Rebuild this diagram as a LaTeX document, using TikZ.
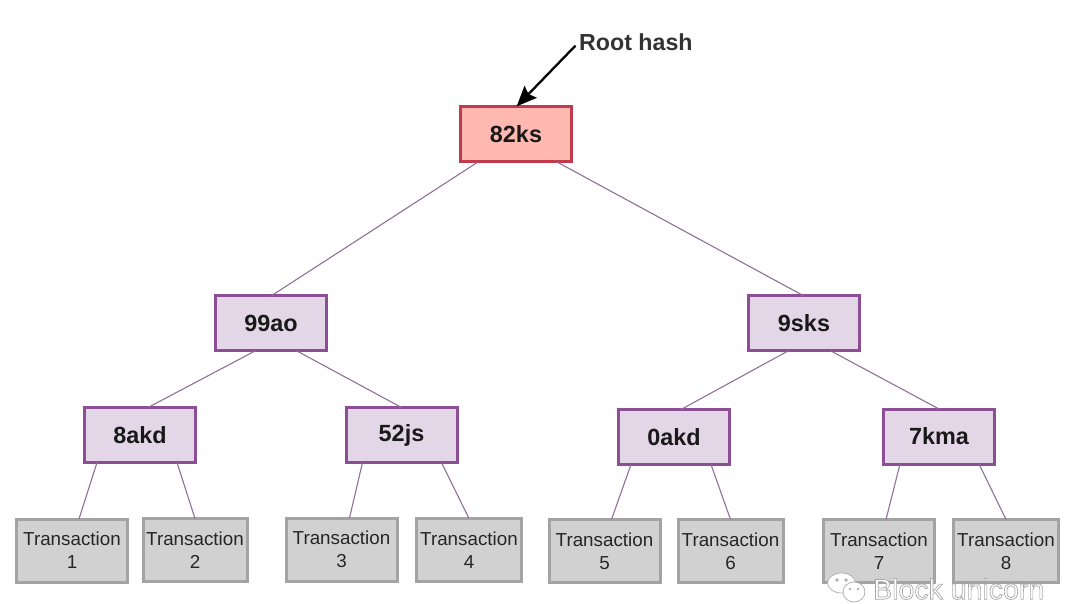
\documentclass[tikz,border=0pt]{standalone}
\usepackage{fontspec}
\usetikzlibrary{arrows.meta}
\setmainfont{Liberation Sans}
\definecolor{rootfill}{HTML}{FFB9B1}
\definecolor{rootline}{HTML}{C23B4C}
\definecolor{hashfill}{HTML}{E3D7E7}
\definecolor{hashline}{HTML}{8C4F95}
\definecolor{txfill}{HTML}{D1D1D1}
\definecolor{txline}{HTML}{A3A3A3}
\definecolor{edgeline}{HTML}{8F7099}
\tikzset{
  roothash/.style={draw=rootline, fill=rootfill, line width=3pt, outer sep=0pt, minimum width=111pt, minimum height=55pt, font=\fontsize{23.4}{28}\selectfont\bfseries, text=black!90},
  hashbox/.style={draw=hashline, fill=hashfill, line width=3pt, outer sep=0pt, minimum width=111pt, minimum height=55pt, font=\fontsize{23.4}{28}\selectfont\bfseries, text=black!90},
  txbox/.style={draw=txline, fill=txfill, line width=3pt, outer sep=0pt, minimum height=63pt, inner sep=0pt, align=center, font=\fontsize{18.8}{23}\selectfont, text=black!85},
  edge/.style={draw=edgeline, line width=1.1pt}
}
\begin{document}
\begin{tikzpicture}[x=1pt, y=-1pt]
\useasboundingbox (0,0) rectangle (1080,604);
% Hash boxes
\node[roothash] (root) at (516,134.5) {82ks};
\node[hashbox] (h99ao) at (271,323.5) {99ao};
\node[hashbox] (h9sks) at (804,323.5) {9sks};
\node[hashbox] (h8akd) at (140,435) {8akd};
\node[hashbox] (h52js) at (401.5,435) {52js};
\node[hashbox] (h0akd) at (674,437) {0akd};
\node[hashbox] (h7kma) at (939,436.5) {7kma};
% Transactions
\node[txbox, minimum width=111pt] (tx1) at (72,550.5) {Transaction\\1};
\node[txbox, minimum width=104pt] (tx2) at (195,550) {Transaction\\2};
\node[txbox, minimum width=111pt] (tx3) at (341.5,549.5) {Transaction\\3};
\node[txbox, minimum width=105pt] (tx4) at (469,550) {Transaction\\4};
\node[txbox, minimum width=111pt] (tx5) at (604.5,551) {Transaction\\5};
\node[txbox, minimum width=105pt] (tx6) at (730.5,551) {Transaction\\6};
\node[txbox, minimum width=111pt] (tx7) at (879,551) {Transaction\\7};
\node[txbox, minimum width=105pt] (tx8) at (1006,551) {Transaction\\8};
% Root label
\node[anchor=west, inner sep=0pt, font=\fontsize{23.2}{28}\selectfont\bfseries, text=black!80] (rootlabel) at (579,42) {Root hash};
\draw[-{Stealth[length=20pt, width=17pt, inset=3pt]}, line width=2.3pt, shorten <=5pt, shorten >=1pt] (rootlabel.west) -- (root.north);
% Edges
\draw[edge] ([xshift=-38pt]root.south) -- (h99ao.north);
\draw[edge] ([xshift=41pt]root.south) -- (h9sks.north);
\draw[edge] ([xshift=-16pt]h99ao.south) -- ([xshift=8pt]h8akd.north);
\draw[edge] ([xshift=26pt]h99ao.south) -- (h52js.north);
\draw[edge] ([xshift=-16pt]h9sks.south) -- ([xshift=7pt]h0akd.north);
\draw[edge] ([xshift=27pt]h9sks.south) -- (h7kma.north);
\draw[edge] ([xshift=-43pt]h8akd.south) -- ([xshift=7pt]tx1.north);
\draw[edge] ([xshift=37pt]h8akd.south) -- (tx2.north);
\draw[edge] ([xshift=-39pt]h52js.south) -- ([xshift=8pt]tx3.north);
\draw[edge] ([xshift=40pt]h52js.south) -- (tx4.north);
\draw[edge] ([xshift=-43pt]h0akd.south) -- ([xshift=7pt]tx5.north);
\draw[edge] ([xshift=37pt]h0akd.south) -- (tx6.north);
\draw[edge] ([xshift=-39pt]h7kma.south) -- ([xshift=7pt]tx7.north);
\draw[edge] ([xshift=40pt]h7kma.south) -- (tx8.north);
% Watermark
\filldraw[fill=white, draw=black!30, line width=0.8pt] (841.5,583) ellipse (14pt and 10pt);
\filldraw[fill=black!30, draw=black!30] (837,580) circle (1.5pt);
\filldraw[fill=black!30, draw=black!30] (846,580) circle (1.5pt);
\filldraw[fill=white, draw=black!30, line width=0.8pt] (854,592) ellipse (11pt and 10pt);
\filldraw[fill=black!30, draw=black!30] (850,589) circle (1.2pt);
\filldraw[fill=black!30, draw=black!30] (858,589) circle (1.2pt);
\node[anchor=west, inner sep=0pt, font=\fontsize{28.5}{32}\selectfont, text=white] (mark) at (873,589) {\special{pdf:code 2 Tr 0.7 w 0.65 G}Block unicorn\special{pdf:code 0 Tr}};
\end{tikzpicture}
\end{document}
